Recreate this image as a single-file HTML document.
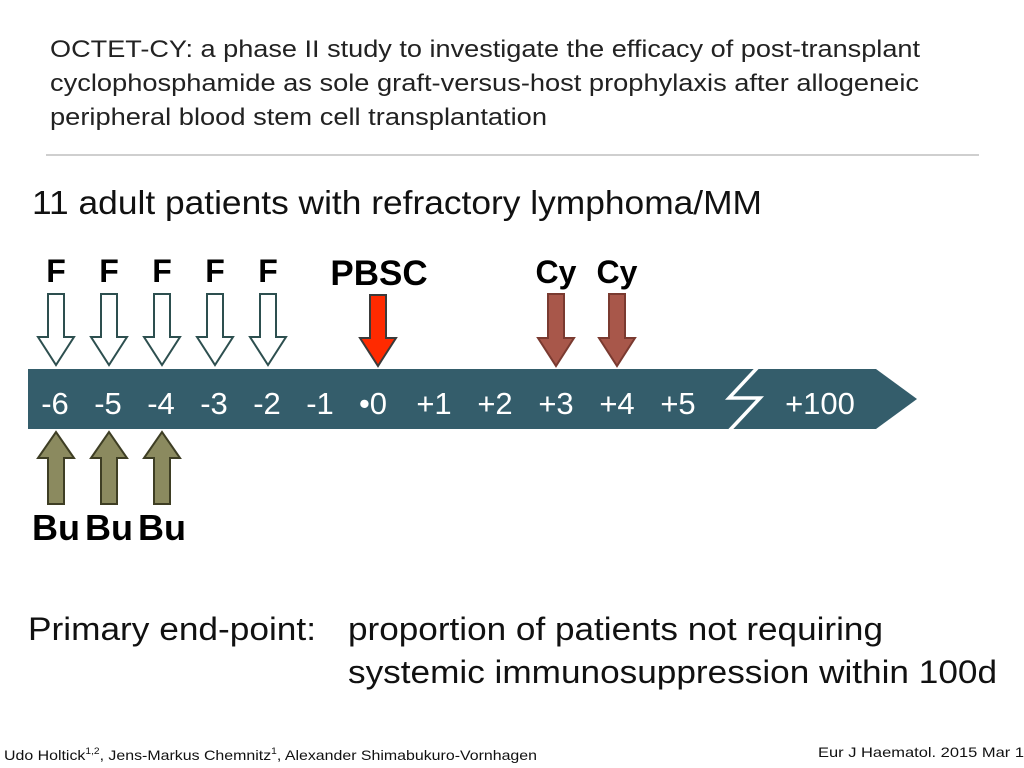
<!DOCTYPE html>
<html><head><meta charset="utf-8"><style>
html,body{margin:0;padding:0;background:#fff;}
svg{display:block;font-family:"Liberation Sans",Arial,sans-serif;}
</style></head><body>
<svg id="s" width="1024" height="768" viewBox="0 0 1024 768">
<g fill="#222" font-size="24">
<text x="50" y="57" textLength="870" lengthAdjust="spacingAndGlyphs">OCTET-CY: a phase II study to investigate the efficacy of post-transplant</text>
<text x="50" y="91" textLength="869" lengthAdjust="spacingAndGlyphs">cyclophosphamide as sole graft-versus-host prophylaxis after allogeneic</text>
<text x="50" y="125" textLength="497" lengthAdjust="spacingAndGlyphs">peripheral blood stem cell transplantation</text>
</g>
<line x1="46" y1="155" x2="979" y2="155" stroke="#cfcfcf" stroke-width="2"/>
<text x="32" y="214" font-size="33" fill="#111" textLength="730" lengthAdjust="spacingAndGlyphs">11 adult patients with refractory lymphoma/MM</text>
<g id="chart"></g>
<g fill="#111" font-size="32">
<text x="28" y="640" textLength="288" lengthAdjust="spacingAndGlyphs">Primary end-point:</text>
<text x="348" y="640" textLength="535" lengthAdjust="spacingAndGlyphs">proportion of patients not requiring</text>
<text x="348" y="683" textLength="649" lengthAdjust="spacingAndGlyphs">systemic immunosuppression within 100d</text>
</g>
<text x="4" y="760" font-size="14" fill="#111" textLength="533" lengthAdjust="spacingAndGlyphs">Udo Holtick<tspan font-size="9" dy="-6">1,2</tspan><tspan dy="6">, Jens-Markus Chemnitz</tspan><tspan font-size="9" dy="-6">1</tspan><tspan dy="6">, Alexander Shimabukuro-Vornhagen</tspan></text>
<text x="818" y="757" font-size="14" fill="#111" textLength="206" lengthAdjust="spacingAndGlyphs">Eur J Haematol. 2015 Mar 1</text>
</svg>
<script>
const dayLabels = ["-6","-5","-4","-3","-2","-1","•0","+1","+2","+3","+4","+5"];
const dayValues = [-6,-5,-4,-3,-2,-1,0,1,2,3,4,5];
const fDays = [-6,-5,-4,-3,-2];
const buDays = [-6,-5,-4];
const pbscDays = [0];
const cyDays = [3,4];
const endLabel = "+100";

const NS = "http://www.w3.org/2000/svg";
const g = document.getElementById("chart");
function xDay(d){ return d <= 0 ? 373 + d * 53 : 373 + d * 61; }
function mk(tag, attrs, parent){
  const e = document.createElementNS(NS, tag);
  for (const k in attrs) e.setAttribute(k, attrs[k]);
  (parent || g).appendChild(e);
  return e;
}
const bar = mk("path", {d:"M28 369 L876 369 L917 399 L876 429 L28 429 Z", fill:"#345d6b"});


const brk = mk("polyline", {points:"758,367 729,398 760,398 729,431", fill:"none", stroke:"#fff", "stroke-width":"3.5"});


dayValues.forEach((d, i) => {
  const t = mk("text", {x:xDay(d), y:414, "text-anchor":"middle", "font-size":"31", fill:"#fff"});
  t.textContent = dayLabels[i];
  
  
});
const tEnd = mk("text", {x:820, y:414, "text-anchor":"middle", "font-size":"31", fill:"#fff"});
tEnd.textContent = endLabel;



function downArrow(cx, top, bot, fill, stroke){
  const sw = 8, hw = 18, hy = bot - 28;
  return mk("path", {d:`M${cx-sw} ${top} L${cx+sw} ${top} L${cx+sw} ${hy} L${cx+hw} ${hy} L${cx} ${bot} L${cx-hw} ${hy} L${cx-sw} ${hy} Z`, fill, stroke, "stroke-width":"2"});
}
function upArrow(cx, top, bot, fill, stroke){
  const sw = 8, hw = 18, hy = top + 26;
  return mk("path", {d:`M${cx-sw} ${bot} L${cx+sw} ${bot} L${cx+sw} ${hy} L${cx+hw} ${hy} L${cx} ${top} L${cx-hw} ${hy} L${cx-sw} ${hy} Z`, fill, stroke, "stroke-width":"2"});
}
function label(x, y, size){
  return mk("text", {x, y, "text-anchor":"middle", "font-size":size, "font-weight":"bold", fill:"#000"});
}
fDays.forEach(d => {
  const a = downArrow(xDay(d)+1, 294, 365, "#fff", "#2d4f4f");
  
  
  const t = label(xDay(d)+1, 282, 32); t.textContent = "F";
  
  
});
pbscDays.forEach(d => {
  const a = downArrow(xDay(d)+5, 295, 366, "#ff2a00", "#3a3a3a");
  
  
  const t = label(xDay(d)+6, 285, 35); t.textContent = "PBSC";
  
  
});
cyDays.forEach(d => {
  const a = downArrow(xDay(d), 294, 366, "#a8574a", "#7a3a30");
  
  
  const t = label(xDay(d), 283, 32); t.textContent = "Cy";
  
  
});
buDays.forEach(d => {
  const a = upArrow(xDay(d)+1, 432, 504, "#8b8a5f", "#3e3e24");
  
  
  const t = label(xDay(d)+1, 540, 36); t.textContent = "Bu";
  
  
});
</script>
</body></html>
